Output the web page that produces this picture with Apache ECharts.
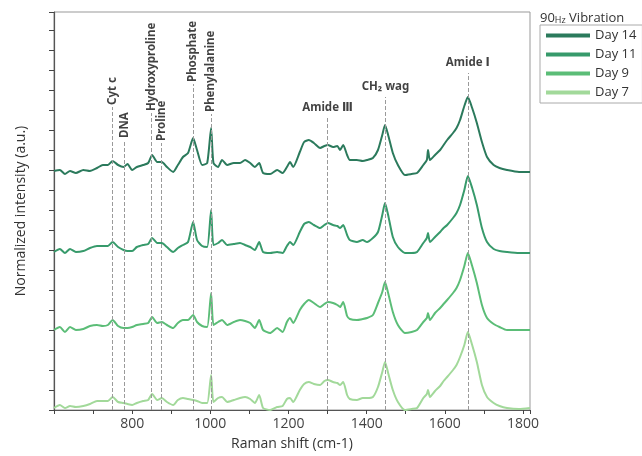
<!DOCTYPE html>
<html><head><meta charset="utf-8">
<script src="https://cdn.jsdelivr.net/npm/echarts@6/dist/echarts.min.js"></script>
<style>html,body{margin:0;padding:0;background:#fff}#c{width:642px;height:456px}</style>
</head><body><div id="c"></div>
<script>
// Raman shift grid (cm-1)
const ramanShift = [600,615,628,641,656,675,692,710,725,738,750,764,778,788,800,812,828,841,851,864,876,889,905,917,930,943,956,966,979,992,1002,1008,1020,1030,1043,1060,1076,1089,1102,1114,1125,1135,1153,1171,1185,1196,1204,1212,1229,1240,1252,1265,1281,1292,1301,1314,1325,1332,1340,1350,1357,1375,1390,1401,1416,1429,1440,1447,1455,1467,1480,1498,1515,1529,1545,1554,1557,1562,1575,1588,1597,1606,1621,1630,1639,1650,1659,1670,1682,1695,1708,1725,1740,1759,1790,1818];
// Normalized intensity (offset-stacked, arbitrary units)
const day14 = [239,240,236,239,237,240,239,242,245,245,249,245,243,246,240,243,245,247,255,248,248,243,238,245,253,257,272,260,245,247,282,247,243,250,245,247,247,250,247,243,247,237,236,240,237,243,248,243,258,268,270,267,262,264,265,263,264,260,265,255,250,250,249,250,252,260,275,285,275,257,245,235,236,237,245,250,260,250,255,260,265,270,277,282,290,304,313,302,287,268,253,245,242,240,238,238];
const day11 = [158,161,157,161,158,159,162,164,164,164,168,163,160,159,159,163,165,166,172,167,167,163,158,162,165,168,188,170,164,163,200,165,167,170,165,166,167,165,163,160,168,158,157,158,157,164,168,165,178,186,188,185,182,185,187,185,184,182,185,175,170,168,170,168,172,178,195,207,195,173,163,157,157,158,167,172,177,168,173,178,182,185,192,197,205,220,234,222,205,182,168,161,159,158,157,157];
const day9 = [80,83,78,83,80,81,84,85,84,85,90,84,82,82,83,85,86,87,93,87,88,85,82,87,90,90,95,88,84,83,117,85,88,90,85,88,90,89,87,82,90,80,77,82,78,88,92,87,100,106,110,107,103,106,108,107,105,103,108,94,91,90,91,92,95,107,118,128,117,98,85,77,78,80,88,92,97,90,97,102,106,110,117,122,130,144,157,144,127,105,92,86,83,80,80,80];
const day7 = [2,5,2,4,3,4,6,9,9,9,13,8,7,6,5,7,9,10,16,10,12,8,5,10,12,11,10,9,7,7,35,8,12,13,8,10,12,13,11,7,15,2,0,3,4,11,12,8,20,26,28,26,25,29,30,28,27,25,28,15,11,10,12,12,13,23,38,48,37,20,8,0,1,2,12,16,20,13,19,24,29,33,40,45,53,65,78,65,48,25,13,7,4,2,1,2];
const seriesNames = ['Day 14','Day 11','Day 9','Day 7'];
// Band assignments
const markerNames = ['Cyt c','DNA','Hydroxyproline','Proline','Phosphate','Phenylalanine','Amide Ⅲ','CH₂ wag','Amide Ⅰ'];
const markerShift = [750,780,850,875,956,1002,1300,1448,1659];
const markerTop = [303,270,297,267,326,296,292,313,337];
const markerVertical = [true,true,true,true,true,true,false,false,false];
const xTickLabels = [800,1000,1200,1400,1600,1800];

const colors = ['#2b7a5c','#379a6b','#5bbd77','#a2d99a'];
const allData = [day14, day11, day9, day7];
const chart = echarts.init(document.getElementById('c'));
const FONT = "'Open Sans', 'Noto Sans', sans-serif";
const LFONT = "'Noto Sans', 'DejaVu Sans', sans-serif";

const lineSeries = allData.map((arr, k) => ({
  name: seriesNames[k], type: 'line', showSymbol: false, smooth: 0.2,
  z: 3, color: colors[k],
  lineStyle: {width: 2, color: colors[k]},
  data: ramanShift.map((w, i) => [w, arr[i]])
}));

const annot = {
  type: 'scatter', symbolSize: 0, z: 2, silent: true,
  data: markerShift.map((w, i) => ({
    value: [w, markerTop[i]],
    label: markerVertical[i]
      ? {rotate: 90, align: 'left', verticalAlign: 'middle', position: 'top', distance: 2}
      : {position: 'top', distance: 4}
  })),
  label: {show: true, formatter: p => markerNames[p.dataIndex], fontFamily: LFONT, fontWeight: 'bold', fontSize: 11.5, color: '#111'},
  markLine: {
    silent: true, symbol: ['none','none'], animation: false,
    label: {show: false},
    lineStyle: {color: '#9a9a9a', type: 'dashed', width: 1},
    data: markerShift.map((w, i) => [{coord: [w, 0]}, {coord: [w, markerTop[i]]}])
  }
};

chart.setOption({
  animation: false,
  textStyle: {fontFamily: FONT},
  title: {
    text: '90{h|Hz} Vibration', left: 535, top: 7,
    textStyle: {fontFamily: FONT, fontSize: 13, fontWeight: 'normal', color: '#333',
      rich: {h: {fontFamily: FONT, fontSize: 9, color: '#333', verticalAlign: 'bottom'}}}
  },
  legend: {
    data: seriesNames, orient: 'vertical', left: 540, top: 25,
    icon: 'rect', itemWidth: 44, itemHeight: 4, itemGap: 6,
    borderColor: '#aaa', borderWidth: 1, borderRadius: 0, padding: [4, 6, 4, 6],
    selectedMode: false,
    textStyle: {fontFamily: FONT, fontSize: 13, color: '#333'}
  },
  grid: {left: 54, right: 112, top: 12, bottom: 46, show: true, borderColor: '#999', borderWidth: 1},
  xAxis: {
    type: 'value', min: 600, max: 1818, interval: 100,
    name: 'Raman shift (cm-1)', nameLocation: 'middle', nameGap: 27,
    nameTextStyle: {fontFamily: FONT, fontSize: 14, color: '#333'},
    axisLine: {lineStyle: {color: '#555', width: 1.2}},
    axisTick: {show: true, length: 4, lineStyle: {color: '#444', width: 1}},
    axisLabel: {fontFamily: FONT, fontSize: 14, color: '#444', margin: 7,
      formatter: v => (xTickLabels.indexOf(v) >= 0 ? String(v) : '')},
    splitLine: {show: false}
  },
  yAxis: {
    type: 'value', min: 0, max: 398, interval: 20,
    name: 'Normalized intensity (a.u.)', nameLocation: 'middle', nameGap: 26,
    nameTextStyle: {fontFamily: FONT, fontSize: 14, color: '#333'},
    axisLine: {show: true, onZero: false, lineStyle: {color: '#555', width: 1.2}},
    axisTick: {show: true, length: 5, lineStyle: {color: '#444', width: 1}},
    axisLabel: {show: false},
    splitLine: {show: false}
  },
  series: [annot].concat(lineSeries)
});
</script></body></html>
